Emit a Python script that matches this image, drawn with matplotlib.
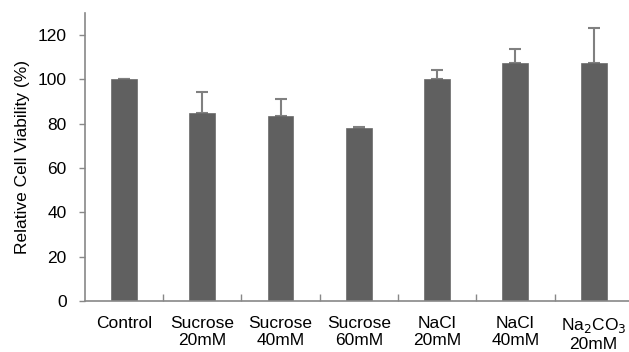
import numpy as np
import matplotlib.pyplot as plt

plt.rcParams["font.family"] = ["Liberation Sans", "DejaVu Sans"]

# viability data (mean and upper error)
groups = ["Control", "Sucrose\n20mM", "Sucrose\n40mM", "Sucrose\n60mM",
          "NaCl\n20mM", "NaCl\n40mM", "Na$_2$CO$_3$\n20mM"]
viability = [100.0, 84.8, 83.4, 78.0, 100.1, 107.5, 107.3]
errors = [0.4, 9.7, 7.7, 0.6, 4.4, 6.2, 16.1]


def main() -> None:
    fig = plt.figure(figsize=(6.29, 3.52), dpi=100)
    ax = fig.add_axes([0.135, 0.145, 0.871, 0.818])

    x = np.arange(len(groups))
    ax.bar(x, viability, width=0.33, color="#606060", edgecolor="#6a6a6a",
           linewidth=0.5, zorder=2)
    ax.errorbar(x, viability, yerr=[np.zeros(len(errors)), errors], fmt="none",
                ecolor="#808080", elinewidth=1.5, capsize=4.5, capthick=1.5,
                zorder=1)

    ax.set_xlim(-0.5, len(groups) - 0.5)
    ax.set_ylim(0, 130)
    ax.set_yticks(np.arange(0, 121, 20))
    ax.set_ylabel("Relative Cell Viability (%)", fontsize=12.5, labelpad=6)

    # category labels centred, ticks at the boundaries
    ax.set_xticks(x)
    ax.set_xticklabels(groups, fontsize=12.5, linespacing=1.15)
    ax.tick_params(axis="x", length=0, pad=11)
    ax.set_xticks(np.arange(0.5, len(groups) - 0.5, 1), minor=True)
    ax.tick_params(axis="x", which="minor", length=5, color="#888888",
                   direction="in", width=1)
    ax.tick_params(axis="y", labelsize=12.5, length=4, color="#888888",
                   width=1, pad=9)

    for side in ("top", "right"):
        ax.spines[side].set_visible(False)
    for side in ("left", "bottom"):
        ax.spines[side].set_color("#888888")
        ax.spines[side].set_linewidth(1.2)

    fig.savefig("out.png", dpi=100)


if __name__ == "__main__":
    main()
